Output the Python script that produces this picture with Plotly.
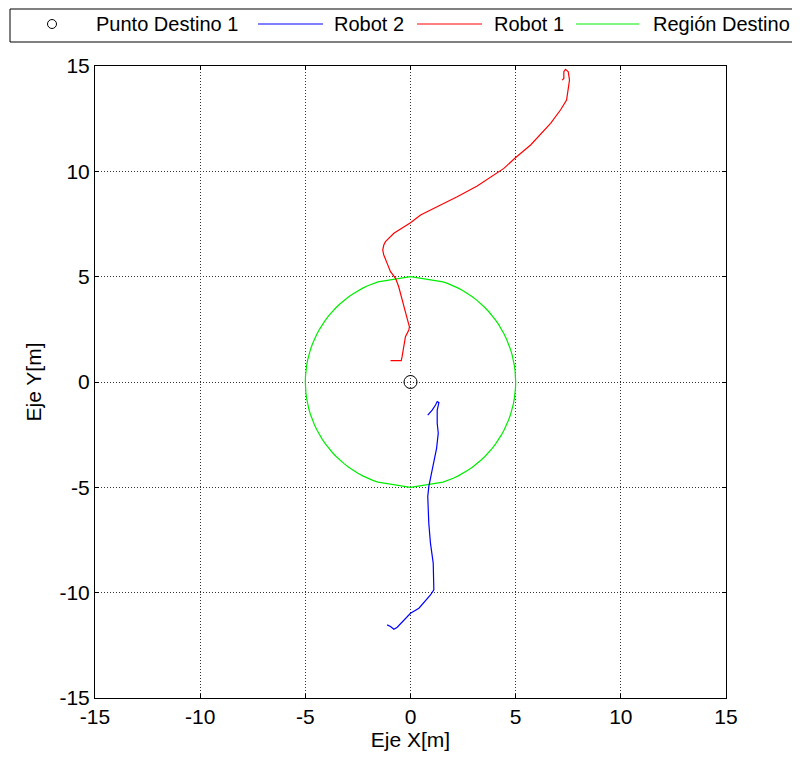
import numpy as np
import plotly.graph_objects as go

# Robot 1 (red) trajectory
r1_x = [-0.95, -0.44, -0.40, -0.32, -0.24, -0.08, -0.05, -0.16, -0.27, -0.39, -0.56, -0.71, -0.95,
        -1.11, -1.27, -1.32, -1.27, -1.19, -0.79, 0.00, 0.48, 1.43, 2.22, 3.17, 4.44, 4.96, 5.71,
        6.66, 7.13, 7.42, 7.50, 7.56, 7.50, 7.37, 7.29, 7.29, 7.21]
r1_y = [1.01, 1.01, 1.20, 1.68, 2.15, 2.47, 2.62, 3.02, 3.42, 3.89, 4.52, 4.92, 5.24,
        5.63, 6.03, 6.26, 6.50, 6.66, 7.06, 7.56, 7.93, 8.40, 8.79, 9.30, 10.14, 10.62, 11.25,
        12.28, 12.91, 13.38, 13.86, 14.33, 14.73, 14.84, 14.73, 14.41, 14.33]

# Robot 2 (blue) trajectory
r2_x = [0.82, 1.03, 1.19, 1.27, 1.35, 1.27, 1.27, 1.32, 1.24, 1.11, 1.00, 0.87, 0.82, 0.87,
        0.95, 1.08, 1.11, 0.95, 0.63, 0.40, 0.00, -0.32, -0.63, -0.79, -0.95, -1.11]
r2_y = [-1.57, -1.33, -1.09, -0.93, -0.98, -1.33, -1.96, -2.43, -3.15, -3.86, -4.33, -4.97,
        -5.44, -6.71, -7.66, -8.60, -9.87, -10.11, -10.50, -10.74, -10.98, -11.30, -11.64,
        -11.74, -11.61, -11.53]

# Target point and target region (circle of radius 5 around it)
pt_x = [0]
pt_y = [0]
region_radius = 5.0

ticks = [-15, -10, -5, 0, 5, 10, 15]
legend_names = ["Punto Destino 1", "Robot 2", "Robot 1", "Región Destino"]

# polygon outline of the target region
ang = np.deg2rad(np.concatenate([np.arange(0, 72, 3), [72, 90, 108], np.arange(111, 252, 3),
                                 [252, 270, 288], np.arange(291, 361, 3)]))
reg_x = pt_x[0] + region_radius * np.cos(ang)
reg_y = pt_y[0] + region_radius * np.sin(ang)

FONT = "Liberation Sans, Arial, sans-serif"
L, T, PW, PH = 87, 58, 631, 632
W, H = 800, 763

def fx(p):  # figure pixel x -> paper
    return (p - L) / PW

def fy(p):  # figure pixel y (from top) -> paper
    return (T + PH - p) / PH

fig = go.Figure()
fig.add_trace(go.Scatter(x=reg_x, y=reg_y, mode="lines", name=legend_names[3],
                         line=dict(color="#00ee00", width=1.2), showlegend=False))
fig.add_trace(go.Scatter(x=r2_x, y=r2_y, mode="lines", name=legend_names[1],
                         line=dict(color="#0000ff", width=1.2), showlegend=False))
fig.add_trace(go.Scatter(x=r1_x, y=r1_y, mode="lines", name=legend_names[2],
                         line=dict(color="#ff0000", width=1.2), showlegend=False))
fig.add_trace(go.Scatter(x=pt_x, y=pt_y, mode="markers", name=legend_names[0],
                         marker=dict(symbol="circle-open", size=13, color="black",
                                     line=dict(width=1, color="black")), showlegend=False))

# custom legend box (MATLAB style, long line samples)
shapes = [dict(type="rect", xref="paper", yref="paper", x0=fx(2), x1=fx(791), y0=fy(1), y1=fy(34),
               line=dict(color="black", width=1), fillcolor="white", layer="above")]
ly = 16
shapes.append(dict(type="circle", xref="paper", yref="paper", x0=fx(44 - 4.5), x1=fx(44 + 4.5),
                   y0=fy(ly + 4.5), y1=fy(ly - 4.5), line=dict(color="black", width=1)))
for (a, b), col in zip([(250, 315), (409, 474), (568, 631)], ["#0000ff", "#ff0000", "#00ee00"]):
    shapes.append(dict(type="line", xref="paper", yref="paper", x0=fx(a), x1=fx(b),
                       y0=fy(ly), y1=fy(ly), line=dict(color=col, width=1)))
annotations = []
for name, tx in zip(legend_names, [86, 324, 484, 643]):
    annotations.append(dict(text=name, xref="paper", yref="paper", x=fx(tx), y=fy(ly),
                            xanchor="left", yanchor="middle", showarrow=False,
                            font=dict(size=20, family=FONT, color="black")))

axis_common = dict(
    range=[-15, 15], tickvals=ticks, ticktext=[str(t) for t in ticks],
    showgrid=True, gridcolor="#333333", griddash="1px,2px", gridwidth=1,
    zeroline=False, showline=True, linecolor="black", linewidth=1, mirror="ticks",
    ticks="inside", ticklen=4, tickcolor="black",
    tickfont=dict(size=21, color="black", family=FONT), automargin=False,
)

fig.update_layout(
    width=W, height=H,
    margin=dict(l=L, r=W - L - PW, t=T, b=H - T - PH),
    paper_bgcolor="white", plot_bgcolor="white",
    font=dict(family=FONT, size=21, color="black"),
    xaxis=dict(**axis_common, title=dict(text="Eje X[m]", font=dict(size=21), standoff=2)),
    yaxis=dict(**axis_common, title=dict(text="Eje Y[m]", font=dict(size=21), standoff=12)),
    showlegend=False,
    shapes=shapes,
    annotations=annotations,
)

fig.write_html("out.html")
